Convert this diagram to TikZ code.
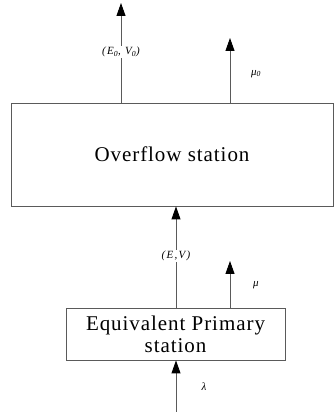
\documentclass[tikz,border=0pt]{standalone}
\usepackage{fontspec}
\setmainfont{Liberation Serif}
\newfontfamily\widefont[LetterSpace=4.5]{Liberation Serif}
\newfontfamily\labelfont[LetterSpace=12]{Liberation Serif}
\usetikzlibrary{arrows.meta}
\definecolor{linegray}{HTML}{5A5A5A}
\tikzset{
  stationbox/.style={draw=linegray, line width=0.9pt, rectangle, inner sep=0pt, align=center,
    font=\widefont\fontsize{21}{25}\selectfont},
  flow/.style={draw=linegray, line width=0.9pt, -{Triangle[width=9pt,length=13pt,fill=black,color=black]}},
  flowlabel/.style={font=\labelfont\fontsize{11}{13}\selectfont\itshape, inner sep=1pt},
  cutlabel/.style={flowlabel, fill=white}
}
\begin{document}
\begin{tikzpicture}[x=1pt,y=1pt]
  \useasboundingbox (0,0) rectangle (334,416);
  % stations
  \node[stationbox, minimum width=322pt, minimum height=103pt] (over) at (172,261.5) {Overflow station};
  \node[stationbox, minimum width=219pt, minimum height=52pt] (prim) at (175.5,82)
    {Equivalent Primary\\[-3pt]station};
  % free ends of the connectors
  \coordinate (lamin) at (176,4);
  \coordinate (muend) at (230,155);
  \coordinate (ovout) at (121,413);
  \coordinate (mu0end) at (230,378);
  % arrival stream into the primary station
  \draw[flow] (lamin) -- (lamin |- prim.south);
  \node[flowlabel] (laml) at (204,29) {λ};
  % overflow stream into the overflow station
  \draw[flow] (prim.north -| lamin) -- (over.south -| lamin)
    node[cutlabel, pos=0.51] (evl) {(E,V)};
  \draw[flow] (prim.north -| muend) -- (muend);
  \node[flowlabel] (mul) at (256,131) {μ};
  % output of the overflow station
  \draw[flow] (over.north -| ovout) -- (ovout)
    node[cutlabel, pos=0.51] (ev0l) {(E\textsubscript{0}, V\textsubscript{0})};
  \draw[flow] (over.north -| mu0end) -- (mu0end);
  \node[flowlabel] (mu0l) at (256,342) {μ\textsubscript{0}};
\end{tikzpicture}
\end{document}
